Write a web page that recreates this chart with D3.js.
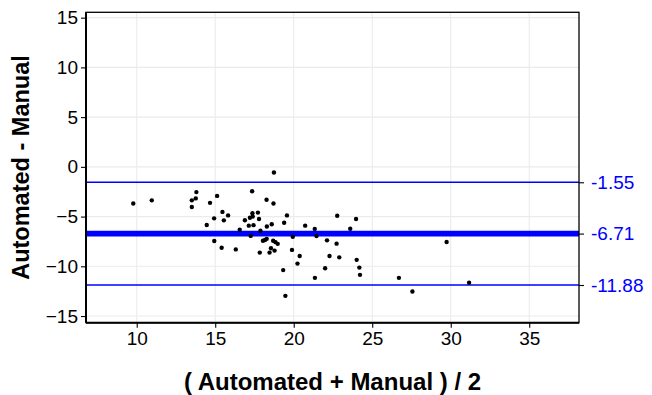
<!DOCTYPE html>
<html>
<head>
<meta charset="utf-8">
<script src="https://cdn.jsdelivr.net/npm/d3@7"></script>
<style>
  body { margin: 0; background: #fff; }
  text { font-family: "Liberation Sans", Arial, sans-serif; }
</style>
</head>
<body>
<svg id="chart" width="652" height="395"></svg>
<script>
'use strict';

// mean of the two methods (x) and their difference (y)
var meanValues = [
  9.78, 10.96, 13.80, 13.76, 13.51, 13.51, 15.12, 14.67, 14.46, 14.93,
  15.46, 15.55, 15.82, 14.94, 15.41, 16.31, 16.56, 17.35, 18.27, 18.74,
  18.71, 16.89, 17.37, 17.72, 17.21, 17.39, 17.79, 17.14, 17.44, 17.26,
  17.88, 18.29, 18.60, 19.39, 19.57, 18.04, 18.17, 18.28, 18.69, 18.84,
  18.98, 18.55, 18.78, 18.46, 17.84, 19.94, 19.89, 20.38, 20.24, 19.33,
  19.47, 20.73, 21.34, 21.45, 22.12, 22.77, 22.73, 22.28, 22.90, 22.00,
  21.35, 23.97, 23.60, 24.01, 24.18, 24.22, 26.70, 27.56, 29.74, 31.17
];
var diffValues = [
  -3.69, -3.37, -2.54, -3.17, -3.37, -4.04, -2.92, -3.62, -5.84, -5.18,
  -4.53, -5.38, -4.88, -7.46, -8.14, -8.30, -6.33, -2.46, -3.31, -0.57,
  -3.69, -5.37, -4.67, -4.60, -5.12, -5.00, -5.25, -5.91, -5.86, -6.94,
  -6.43, -5.99, -5.77, -5.62, -4.88, -7.43, -7.36, -7.24, -7.43, -7.57,
  -7.74, -8.19, -8.42, -8.62, -8.62, -7.03, -8.35, -8.97, -9.73, -10.38,
  -12.97, -5.91, -6.24, -6.96, -7.39, -4.92, -7.72, -8.97, -9.10, -10.20,
  -11.16, -5.25, -6.23, -9.35, -10.13, -10.86, -11.16, -12.53, -7.55, -11.66
];

// bias and limits of agreement
var limitValues = [-1.55, -6.71, -11.88];
var limitLabels = ['-1.55', '-6.71', '-11.88'];

var xTicks = [10, 15, 20, 25, 30, 35];
var yTicks = [-15, -10, -5, 0, 5, 10, 15];

var svg = d3.select('#chart');
var margin = {top: 12.3, right: 73, bottom: 72.3, left: 86};
var width = 652 - margin.left - margin.right;
var height = 395 - margin.top - margin.bottom;

var x = d3.scaleLinear().domain([6.77, 38.17]).range([0, width]);
var y = d3.scaleLinear().domain([-15.67, 15.54]).range([height, 0]);

var g = svg.append('g').attr('transform', 'translate(' + margin.left + ',' + margin.top + ')');

// grid
g.selectAll('.gx').data(xTicks).enter().append('line')
  .attr('x1', function(d) { return x(d); })
  .attr('x2', function(d) { return x(d); })
  .attr('y1', 0).attr('y2', height)
  .style('stroke', '#ebebeb').style('stroke-width', 1.1);
g.selectAll('.gy').data(yTicks).enter().append('line')
  .attr('x1', 0).attr('x2', width)
  .attr('y1', function(d) { return y(d); })
  .attr('y2', function(d) { return y(d); })
  .style('stroke', '#ebebeb').style('stroke-width', 1.1);

// limits of agreement
g.selectAll('.loa').data(limitValues).enter().append('line')
  .attr('x1', 0).attr('x2', width)
  .attr('y1', function(d) { return y(d); })
  .attr('y2', function(d) { return y(d); })
  .style('stroke', '#0000ff')
  .style('stroke-width', function(d, i) { return i === 1 ? 5.7 : 1.4; });

// points
g.selectAll('.pt').data(meanValues).enter().append('circle')
  .attr('cx', function(d) { return x(d); })
  .attr('cy', function(d, i) { return y(diffValues[i]); })
  .attr('r', 2.2)
  .style('fill', '#000');

// axes
var fontSize = '19px';
var xAxis = g.append('g').attr('transform', 'translate(0,' + height + ')')
  .call(d3.axisBottom(x).tickValues(xTicks).tickSize(5).tickPadding(4));
var yAxis = g.append('g')
  .call(d3.axisLeft(y).tickValues(yTicks).tickSize(5).tickPadding(3));
var rAxis = g.append('g').attr('transform', 'translate(' + width + ',0)')
  .call(d3.axisRight(y).tickValues(limitValues)
    .tickFormat(function(d, i) { return limitLabels[i]; })
    .tickSize(5).tickPadding(7));

[xAxis, yAxis, rAxis].forEach(function(a) {
  a.select('.domain').remove();
  a.selectAll('.tick line').style('stroke', '#000').style('stroke-width', 1.1);
  a.selectAll('.tick text').style('font-size', fontSize)
    .style('font-family', '"Liberation Sans", Arial, sans-serif')
    .style('fill', '#000');
});
rAxis.selectAll('.tick text').style('fill', '#0000ff');

// panel border
g.append('rect')
  .attr('width', width).attr('height', height)
  .style('fill', 'none').style('stroke', '#000').style('stroke-width', 1.3);
g.append('line').attr('x1', 0).attr('x2', 0).attr('y1', 0).attr('y2', height)
  .style('stroke', '#000').style('stroke-width', 2);
g.append('line').attr('x1', 0).attr('x2', width).attr('y1', height).attr('y2', height)
  .style('stroke', '#000').style('stroke-width', 2);

// titles
svg.append('text')
  .attr('x', margin.left + width / 2).attr('y', 390)
  .attr('text-anchor', 'middle')
  .style('font-size', '24px').style('font-weight', 'bold')
  .text('( Automated + Manual ) / 2');
svg.append('text')
  .attr('transform', 'translate(29,' + (margin.top + height / 2) + ') rotate(-90)')
  .attr('text-anchor', 'middle')
  .style('font-size', '23.5px').style('font-weight', 'bold')
  .text('Automated - Manual');
</script>
</body>
</html>
